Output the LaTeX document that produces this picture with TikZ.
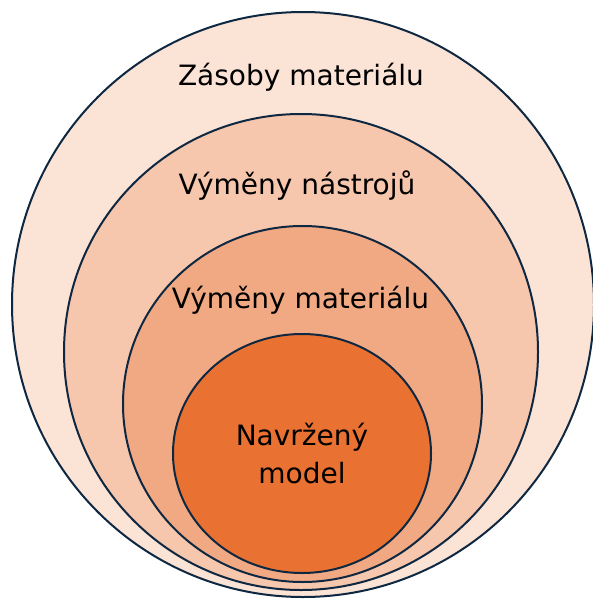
\documentclass[tikz,border=0pt]{standalone}
\usepackage{fontspec}
\setmainfont{DejaVu Sans}
\usepackage{xcolor}
\usetikzlibrary{shapes.geometric, positioning}

\definecolor{ringline}{HTML}{0E2841}
\definecolor{tintA}{HTML}{FBE3D6}
\definecolor{tintB}{HTML}{F6C6AD}
\definecolor{tintC}{HTML}{F1A983}
\definecolor{coreorange}{HTML}{E97132}

\tikzset{
    ring/.style={draw=ringline, line width=2pt, ellipse, inner sep=0pt},
    ringlabel/.style={font=\fontsize{28}{32}\selectfont, text=black, inner sep=0pt}
}

\begin{document}
\begin{tikzpicture}[x=1pt, y=-1pt]
    \useasboundingbox (0,0) rectangle (593,600);

    % Rings from outside in
    \node[ring, fill=tintA, minimum width=582pt, minimum height=585pt] (stock) at (303,304.5) {};
    \node[ring, fill=tintB, minimum width=474pt, minimum height=476pt] (tools) at (301,352) {};
    \node[ring, fill=tintC, minimum width=359pt, minimum height=356pt] (material) at (302.5,404) {};

    % Core
    \node[ring, fill=coreorange, minimum width=258pt, minimum height=239pt,
          align=center, font=\fontsize{28}{38}\selectfont] (model) at (302,453.5) {Navržený\\model};

    % Labels
    \node[ringlabel] (stocklabel) at (301,77) {Zásoby materiálu};
    \node[ringlabel] (toolslabel) at (297,186) {Výměny nástrojů};
    \node[ringlabel] (materiallabel) at (300.5,300) {Výměny materiálu};

\end{tikzpicture}
\end{document}
